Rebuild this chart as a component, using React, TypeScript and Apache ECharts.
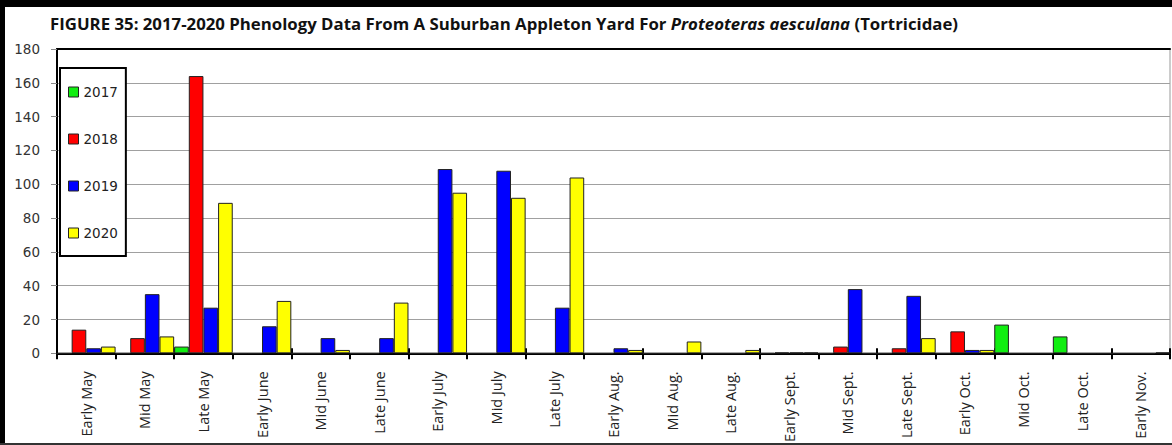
import React, { useEffect, useRef } from "react";
import * as echarts from "echarts";

const categories = [
  "Early May", "Mid May", "Late May", "Early June", "Mid June", "Late June",
  "Early July", "Mid July", "Late July", "Early Aug.", "Mid Aug.", "Late Aug.",
  "Early Sept.", "Mid Sept.", "Late Sept.", "Early Oct.", "Mid Oct.", "Late Oct.", "Early Nov.",
];
const years = ["2017", "2018", "2019", "2020"];
const values2017 = [0, 0, 4, 0, 0, 0, 0, 0, 0, 0, 0, 0, 0, 0, 0, 0, 17, 10, 0];
const values2018 = [14, 9, 164, 0, 0, 0, 0, 0, 0, 0, 0, 0, 0.5, 4, 3, 13, 0, 0, 0];
const values2019 = [3, 35, 27, 16, 9, 9, 109, 108, 27, 3, 0, 0, 0.5, 38, 34, 2, 0, 0, 0];
const values2020 = [4, 10, 89, 31, 2, 30, 95, 92, 104, 2, 7, 2, 0.5, 0, 9, 2, 0, 0, 0.5];
const colors = ["#11ee11", "#ff0000", "#0000ff", "#ffff00"];
const yTicks = { min: 0, max: 180, interval: 20 };

export default function App() {
  const ref = useRef<HTMLDivElement>(null);
  useEffect(() => {
    document.body.style.margin = "0";
    const chart = echarts.init(ref.current!, null, { renderer: "svg" });
    const seriesData = [values2017, values2018, values2019, values2020];
    chart.setOption({
      animation: false,
      backgroundColor: "#ffffff",
      title: {
        left: 50,
        top: 15,
        padding: 0,
        text: "{b|FIGURE 35: 2017-2020 Phenology Data From A Suburban Appleton Yard For}{i| Proteoteras aesculana}{b| (Tortricidae)}",
        textStyle: {
          rich: {
            b: { fontFamily: "Open Sans", fontWeight: "bold", fontSize: 16.8, color: "#111" },
            i: { fontFamily: "Open Sans", fontWeight: "bold", fontStyle: "italic", fontSize: 16.8, color: "#111" },
          },
        },
      },
      legend: {
        orient: "vertical",
        left: 60,
        top: 68,
        padding: [17, 8, 16, 8],
        itemGap: 33,
        itemWidth: 10,
        itemHeight: 10,
        borderColor: "#000",
        borderWidth: 2,
        backgroundColor: "#fff",
        icon: "rect",
        itemStyle: { borderColor: "#222", borderWidth: 1 },
        textStyle: { fontFamily: "DejaVu Sans", fontSize: 13.5, color: "#222" },
        data: years,
      },
      grid: {
        left: 57,
        right: 2,
        top: 49,
        bottom: 91.5,
        show: true,
        borderColor: "#999",
        borderWidth: 1,
        containLabel: false,
      },
      xAxis: [
        {
          type: "category",
          data: categories,
          position: "bottom",
          axisLine: { lineStyle: { color: "#000", width: 2 } },
          axisTick: { show: true, inside: false, length: 6, lineStyle: { color: "#000", width: 2 } },
          axisLabel: {
            rotate: 90,
            margin: 18,
            interval: 0,
            fontFamily: "Open Sans",
            fontSize: 14.5,
            color: "#222",
          },
        },
        {
          type: "category",
          data: categories,
          position: "bottom",
          axisLine: { show: false },
          axisTick: { show: true, inside: true, length: 5, lineStyle: { color: "#000", width: 2 } },
          axisLabel: { show: false },
        },
        {
          type: "category",
          data: categories,
          position: "top",
          axisLine: { show: true, lineStyle: { color: "#000", width: 2 } },
          axisTick: { show: false },
          axisLabel: { show: false },
        },
      ],
      yAxis: {
        type: "value",
        min: yTicks.min,
        max: yTicks.max,
        interval: yTicks.interval,
        axisLine: { show: true, lineStyle: { color: "#000", width: 2 } },
        axisTick: { show: true, length: 6, lineStyle: { color: "#888", width: 1 } },
        axisLabel: { margin: 17, fontFamily: "DejaVu Sans", fontSize: 13.5, color: "#333" },
        splitLine: { lineStyle: { color: "#a0a0a0", width: 1 } },
      },
      series: years.map((y, i) => ({
        name: y,
        type: "bar",
        xAxisIndex: 0,
        data: seriesData[i],
        barGap: "0%",
        barCategoryGap: "0%",
        itemStyle: { color: colors[i], borderColor: "#222", borderWidth: 1 },
      })),
      graphic: [
        { type: "rect", left: 0, top: 0, shape: { width: 5, height: 445 }, style: { fill: "#000" }, z: 100 },
        { type: "rect", left: 0, top: 0, shape: { width: 1172, height: 7 }, style: { fill: "#000" }, z: 100 },
        { type: "rect", left: 0, top: 443, shape: { width: 1172, height: 2 }, style: { fill: "#333" }, z: 100 },
      ],
    });
    return () => chart.dispose();
  }, []);
  return <div ref={ref} style={{ width: 1172, height: 445 }} />;
}
